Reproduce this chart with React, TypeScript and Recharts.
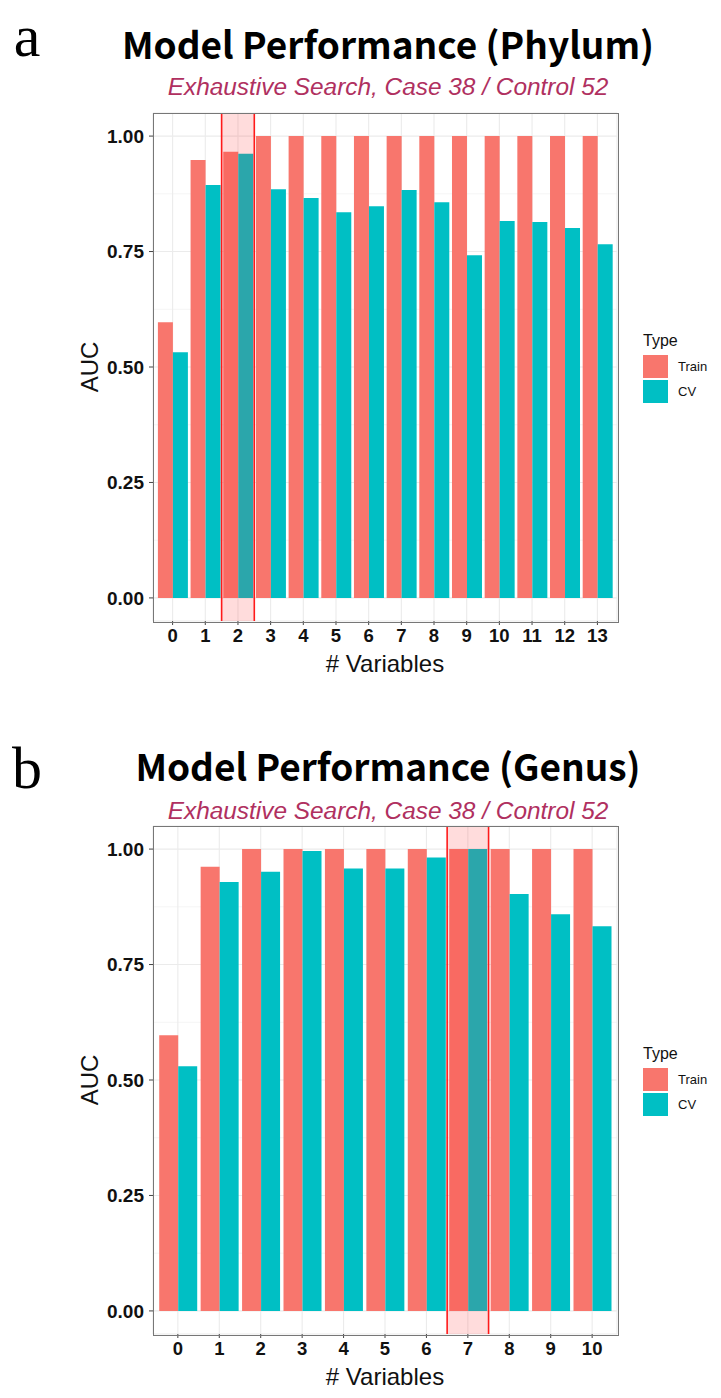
import {
  BarChart,
  Bar,
  XAxis,
  YAxis,
  CartesianGrid,
  ReferenceArea,
  ReferenceLine,
} from "recharts";

// Phylum panel
const phylumVars = ["0", "1", "2", "3", "4", "5", "6", "7", "8", "9", "10", "11", "12", "13"];
const phylumTrain = [0.597, 0.948, 0.966, 1, 1, 1, 1, 1, 1, 1, 1, 1, 1, 1];
const phylumCV = [0.532, 0.894, 0.962, 0.885, 0.866, 0.835, 0.848, 0.883, 0.857, 0.742, 0.816, 0.814, 0.801, 0.766];

// Genus panel
const genusVars = ["0", "1", "2", "3", "4", "5", "6", "7", "8", "9", "10"];
const genusTrain = [0.597, 0.962, 1, 1, 1, 1, 1, 1, 1, 1, 1];
const genusCV = [0.53, 0.929, 0.951, 0.996, 0.958, 0.958, 0.982, 1, 0.903, 0.859, 0.833];

const yTicks = [0, 0.25, 0.5, 0.75, 1];
const yMinor = [0.125, 0.375, 0.625, 0.875];
const subtitle = "Exhaustive Search, Case 38 / Control 52";

const TRAIN = "#F8766D";
const CV = "#00BFC4";

// plot box inside each 721x700 chart
const W = 721;
const H = 700;
const PLOT_L = 153;
const PLOT_R = 617;
const PLOT_T = 113;
const PLOT_B = 621;

function centered(text: string, cx: number, cy: number, style: any) {
  return (
    <div
      style={{
        position: "absolute",
        left: cx - 360,
        width: 720,
        top: cy - 30,
        height: 60,
        lineHeight: "60px",
        textAlign: "center",
        whiteSpace: "nowrap",
        ...style,
      }}
    >
      {text}
    </div>
  );
}

function Panel({ top, letter, title, vars, train, cv, pick, titleY, subY }: any) {
  const data = vars.map((v: string, i: number) => ({ v, Train: train[i], CV: cv[i] }));
  const unit = (PLOT_R - PLOT_L) / (vars.length + 0.2);
  const pad = unit * 0.1;
  const midY = (PLOT_T + PLOT_B) / 2;

  return (
    <div style={{ position: "absolute", left: 0, top, width: W, height: H }}>
      <BarChart
        width={W}
        height={H}
        data={data}
        barCategoryGap="5%"
        barGap={0}
        margin={{ top: PLOT_T, right: W - PLOT_R, left: PLOT_L - 60, bottom: H - PLOT_B - 60 }}
      >
        {/* minor then major grid */}
        <CartesianGrid stroke="#F2F2F2" strokeWidth={0.8} vertical={false} horizontalValues={yMinor} />
        <CartesianGrid stroke="#EBEBEB" strokeWidth={1.1} />
        <XAxis
          dataKey="v"
          type="category"
          height={60}
          padding={{ left: pad, right: pad }}
          axisLine={false}
          tickSize={4}
          tickMargin={4}
          tickLine={{ stroke: "#444" }}
          tick={{ fill: "#111", fontSize: 18.5, fontWeight: 700, fontFamily: "Liberation Sans" }}
          label={{
            value: "# Variables",
            position: "insideBottom",
            offset: 9,
            style: { fill: "#111", fontSize: 24, fontFamily: "Liberation Sans" },
          }}
        />
        <YAxis
          width={60}
          domain={[-0.05, 1.05]}
          ticks={yTicks}
          allowDataOverflow
          axisLine={false}
          tickSize={4}
          tickMargin={5}
          tickLine={{ stroke: "#444" }}
          tickFormatter={(t: number) => t.toFixed(2)}
          tick={{ fill: "#111", fontSize: 19, fontWeight: 700, fontFamily: "Liberation Sans" }}
        />
        <Bar dataKey="Train" fill={TRAIN} isAnimationActive={false} />
        <Bar dataKey="CV" fill={CV} isAnimationActive={false} />
        <ReferenceArea x1={pick} x2={pick} fill="#FF3030" fillOpacity={0.17} stroke="none" zIndex={350} />
        <ReferenceLine x={pick} position="start" stroke="#FF1A1A" strokeWidth={1.6} zIndex={360} />
        <ReferenceLine x={pick} position="end" stroke="#FF1A1A" strokeWidth={1.6} zIndex={360} />
      </BarChart>

      {/* panel border */}
      <div
        style={{
          position: "absolute",
          left: PLOT_L - 0.5,
          top: PLOT_T - 0.5,
          width: PLOT_R - PLOT_L,
          height: PLOT_B - PLOT_T,
          border: "1px solid #777",
          pointerEvents: "none",
        }}
      />

      {/* y title */}
      <div
        style={{
          position: "absolute",
          left: 90 - 40,
          top: midY - 15,
          width: 80,
          height: 30,
          lineHeight: "30px",
          textAlign: "center",
          transform: "rotate(-90deg)",
          fontFamily: "Liberation Sans",
          fontSize: 24,
          color: "#111",
        }}
      >
        AUC
      </div>

      {/* titles */}
      {centered(letter.text, 27, letter.y, {
        fontFamily: "Liberation Serif",
        fontSize: 60,
        color: "#000",
      })}
      {centered(title, 388, titleY, {
        fontFamily: "Noto Sans CJK KR",
        fontWeight: 700,
        fontSize: 37,
        color: "#000",
      })}
      {centered(subtitle, 388, subY, {
        fontFamily: "Liberation Sans",
        fontStyle: "italic",
        fontSize: 24.4,
        color: "#B03060",
      })}

      {/* legend */}
      <div style={{ position: "absolute", left: 643, top: midY - 37, fontFamily: "Liberation Sans", color: "#111" }}>
        <div style={{ fontSize: 16, height: 24, lineHeight: "22px" }}>Type</div>
        {[
          { name: "Train", color: TRAIN },
          { name: "CV", color: CV },
        ].map((k) => (
          <div key={k.name} style={{ display: "flex", alignItems: "center", height: 25 }}>
            <div style={{ width: 25, height: 23, background: k.color, marginRight: 10 }} />
            <span style={{ fontSize: 13 }}>{k.name}</span>
          </div>
        ))}
      </div>
    </div>
  );
}

export default function App() {
  return (
    <div style={{ position: "relative", width: 721, height: 1398, background: "#fff" }}>
      <style>{"body{margin:0}"}</style>
      <Panel
        top={0}
        letter={{ text: "a", y: 36 }}
        title="Model Performance (Phylum)"
        titleY={43}
        subY={87}
        vars={phylumVars}
        train={phylumTrain}
        cv={phylumCV}
        pick="2"
      />
      <Panel
        top={713}
        letter={{ text: "b", y: 55 }}
        title="Model Performance (Genus)"
        titleY={52}
        subY={98}
        vars={genusVars}
        train={genusTrain}
        cv={genusCV}
        pick="7"
      />
    </div>
  );
}
